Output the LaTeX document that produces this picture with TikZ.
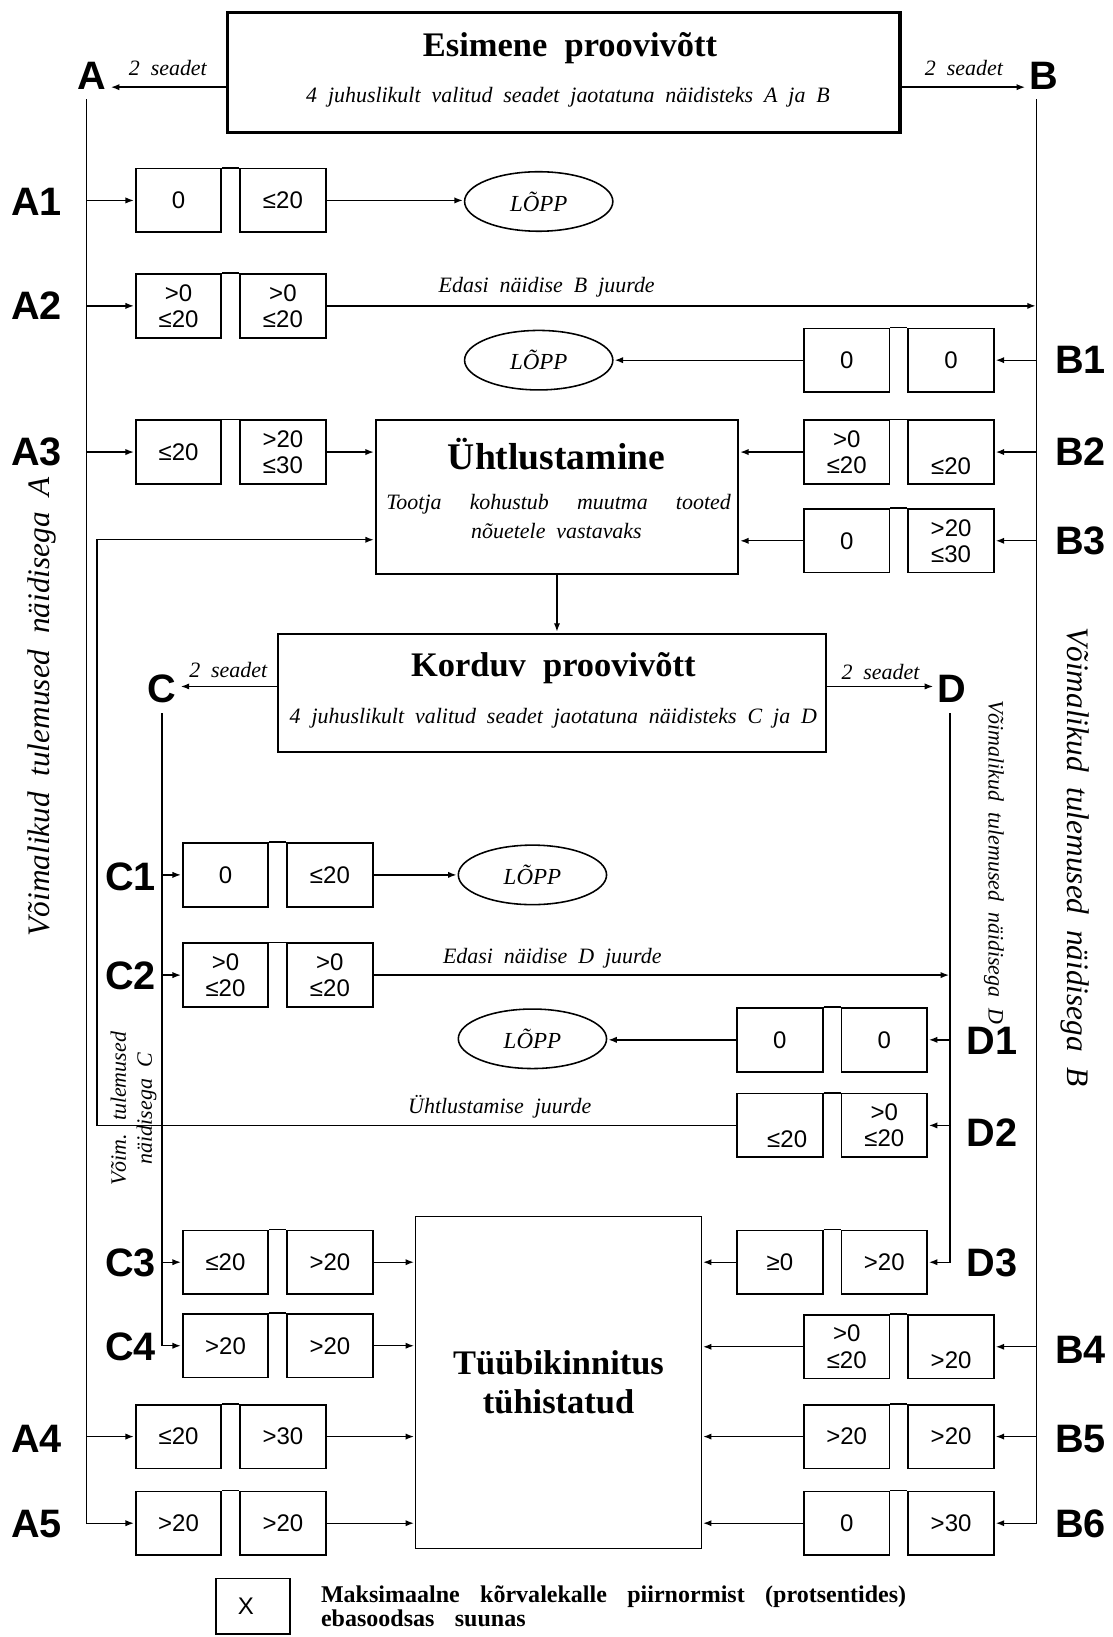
\documentclass[tikz,border=0pt]{standalone}
\usepackage{fontspec}
\setmainfont{Liberation Serif}
\setsansfont{Liberation Sans}
\usetikzlibrary{arrows.meta,shapes.geometric}

\newcommand\widesp{\spaceskip=.5em plus .4em minus .1em\relax}
\newcommand\legsp{\spaceskip=.85em plus .2em minus .1em\relax}

\tikzset{
    valbox/.style={draw, line width=1.6pt, minimum width=82pt, minimum height=61pt,
        inner sep=0pt, align=center, font=\sffamily\fontsize{23}{25}\selectfont},
    bigbox/.style={draw, line width=2pt, inner sep=0pt},
    endnode/.style={draw, ellipse, line width=1.5pt, minimum width=142pt, minimum height=57pt,
        inner sep=0pt, font=\itshape\fontsize{22}{24}\selectfont},
    tag/.style={font=\sffamily\bfseries\fontsize{38}{40}\selectfont},
    titletxt/.style={font=\bfseries\fontsize{33}{37}\selectfont\widesp},
    bodytxt/.style={font=\itshape\fontsize{21}{24}\selectfont\widesp},
    sidetxt/.style={font=\itshape\fontsize{30}{32}\selectfont\widesp},
    smalltxt/.style={font=\itshape\fontsize{21}{25}\selectfont\widesp},
    legtxt/.style={font=\bfseries\fontsize{23}{23}\selectfont\legsp},
    boxline/.style={line width=1.6pt},
    flow/.style={line width=1.3pt, -{Latex[length=8pt,width=6pt]}, shorten >=1pt}
}

\begin{document}
\begin{tikzpicture}[x=1pt,y=-1pt]
    \useasboundingbox (0,0) rectangle (1066,1568);

    % Sampling boxes:
    % The two big boxes with their titles, text placed at coordinates
    \node[bigbox, line width=3.5pt, minimum width=644pt, minimum height=115pt] (esim) at (540,69.5) {};
    \node[titletxt] (esimT) at (546,46) {Esimene proovivõtt};
    \node[bodytxt]  (esimS) at (544,93) {4 juhuslikult valitud seadet jaotatuna näidisteks A ja B};

    \node[bigbox, minimum width=347pt, minimum height=148pt] (uht) at (533.5,476) {};
    \node[titletxt, font=\bfseries\fontsize{36}{38}\selectfont] (uhtT) at (533,435) {Ühtlustamine};
    \node[bodytxt]  (uhtS1) at (535,483) {\makebox[330pt][s]{Tootja kohustub muutma tooted}};
    \node[bodytxt]  (uhtS2) at (533,509) {nõuetele vastavaks};

    \node[bigbox, minimum width=525pt, minimum height=113pt] (kord) at (528.5,663.5) {};
    \node[titletxt] (kordT) at (530,640) {Korduv proovivõtt};
    \node[bodytxt]  (kordS) at (530,688) {4 juhuslikult valitud seadet jaotatuna näidisteks C ja D};

    \node[bigbox, line width=1pt, minimum width=274pt, minimum height=318pt,
          titletxt, align=center] (tyyb) at (535,1324) {Tüübikinnitus\\tühistatud};

    % End states:
    \node[endnode] (end1) at (516,193) {LÕPP};
    \node[endnode] (end2) at (516,345) {LÕPP};
    \node[endnode] (end3) at (510,838) {LÕPP};
    \node[endnode] (end4) at (510,995) {LÕPP};

    % Letters of the samples and of the result rows:
    \foreach \t/\x/\y in {A/88/73, B/1000/73, C/155/660, D/912/660,
        A1/35/193, A2/35/293, A3/35/433, A4/35/1378, A5/35/1460,
        B1/1035/345, B2/1035/433, B3/1035/518, B4/1035/1293, B5/1035/1378, B6/1035/1460,
        C1/125/840, C2/125/935, C3/125/1210, C4/125/1290,
        D1/950/997, D2/950/1085, D3/950/1210}
        \node[tag] (tag\t) at (\x,\y) {\t};

    % Result pairs:
    % left box at (x,y), right box 100 further, joined along the top
    \foreach \n/\x/\y/\p/\q in {
        a1/171/192/0/{≤20},
        a2/171/293/{>0\\≤20}/{>0\\≤20},
        a3/171/433/{≤20}/{>20\\≤30},
        a4/171/1376/{≤20}/{>30},
        a5/171/1459/{>20}/{>20},
        b1/811/345/0/0,
        b2/811/433/{>0\\≤20}/{\strut\\≤20},
        b3/811/518/0/{>20\\≤30},
        b4/811/1290/{>0\\≤20}/{\strut\\>20},
        b5/811/1376/{>20}/{>20},
        b6/811/1459/0/{>30},
        c1/216/838/0/{≤20},
        c2/216/934/{>0\\≤20}/{>0\\≤20},
        c3/216/1209/{≤20}/{>20},
        c4/216/1289/{>20}/{>20},
        d1/747/996/0/0,
        d2/747/1078/{\strut\\\hspace*{14pt}≤20}/{>0\\≤20},
        d3/747/1209/{≥0}/{>20}}{%
        \node[valbox] (\n-l) at (\x,\y) {\p};
        \node[valbox] (\n-r) at (\x+100,\y) {\q};
        \draw[boxline] (\n-l.north east) -- (\n-r.north west);
    }

    % Sample lines:
    \coordinate (topA) at (83,95);
    \coordinate (topB) at (993,95);
    \coordinate (topC) at (155,683);
    \coordinate (topD) at (910,683);
    \coordinate (backTop) at (93,517);

    \draw[flow] (topA) |- (a5-l);
    \foreach \n in {a1,a2,a3,a4} \draw[flow] (topA |- \n-l) -- (\n-l);
    \draw[flow] (topB) |- (b6-r);
    \foreach \n in {b1,b2,b3,b4,b5} \draw[flow] (topB |- \n-r) -- (\n-r);
    \draw[flow] (topC) |- (c4-l);
    \foreach \n in {c1,c2,c3} \draw[flow] (topC |- \n-l) -- (\n-l);
    \draw[flow] (topD) |- (d3-r);
    \foreach \n in {d1,d2} \draw[flow] (topD |- \n-r) -- (\n-r);

    % Two devices to each sample:
    \draw[flow] ([yshift=-14pt]esim.west) -- node[above=7pt, smalltxt] (seadA) {2 seadet}
        ([yshift=-14pt]esim.west -| tagA.east);
    \draw[flow] ([yshift=-14pt]esim.east) -- node[above=7pt, smalltxt] (seadB) {2 seadet}
        ([yshift=-14pt]esim.east -| tagB.west);
    \draw[flow] ([yshift=6pt]kord.west) -- node[above=4pt, smalltxt] (seadC) {2 seadet}
        ([yshift=6pt]kord.west -| tagC.east);
    \draw[flow] ([yshift=6pt]kord.east) -- node[above=2pt, smalltxt] (seadD) {2 seadet}
        ([yshift=6pt]kord.east -| tagD.west);

    % Where the rows lead:
    \draw[flow] (a1-r) -- (a1-r -| end1.west);
    \draw[flow] (b1-l) -- (b1-l -| end2.east);
    \draw[flow] (c1-r) -- (c1-r -| end3.west);
    \draw[flow] (d1-l) -- (d1-l -| end4.east);
    \draw[flow] (a2-r) -- node[pos=.31, above=4pt, smalltxt] (edasiB) {Edasi näidise B juurde} (topB |- a2-r);
    \draw[flow] (c2-r) -- node[pos=.31, above=3pt, smalltxt] (edasiD) {Edasi näidise D juurde} (topD |- c2-r);
    \draw[flow] (a3-r) -- (a3-r -| uht.west);
    \draw[flow] (b2-l) -- (b2-l -| uht.east);
    \draw[flow] (b3-l) -- (b3-l -| uht.east);
    \draw[flow] (d2-l) -- node[pos=.37, above=3pt, smalltxt] (backL) {Ühtlustamise juurde}
        (backTop |- d2-l) -- (backTop) -- (backTop -| uht.west);
    \draw[flow] (uht.south) -- (uht.south |- kord.north);
    \foreach \n in {c3,c4,a4,a5} \draw[flow] (\n-r) -- (\n-r -| tyyb.west);
    \foreach \n in {d3,b4,b5,b6} \draw[flow] (\n-l) -- (\n-l -| tyyb.east);

    % Side texts:
    \node[sidetxt, rotate=90]  (sideA) at (40,677)   {Võimalikud tulemused näidisega A};
    \node[sidetxt, rotate=-90] (sideB) at (1030,821) {Võimalikud tulemused näidisega B};
    \node[smalltxt, rotate=-90] (sideD) at (952,826) {Võimalikud tulemused näidisega D};
    \node[smalltxt, rotate=90, align=center] (sideC) at (128,1062) {Võim. tulemused\\näidisega C};

    % Legend:
    \node[valbox, minimum width=71pt, minimum height=53pt] (legbox) at (242.5,1538.5) {\hspace*{-14pt}X};
    \node[legtxt, anchor=north west, align=left] (legT) at (304,1515)
        {Maksimaalne kõrvalekalle piirnormist (protsentides)\\ebasoodsas suunas};
\end{tikzpicture}
\end{document}
